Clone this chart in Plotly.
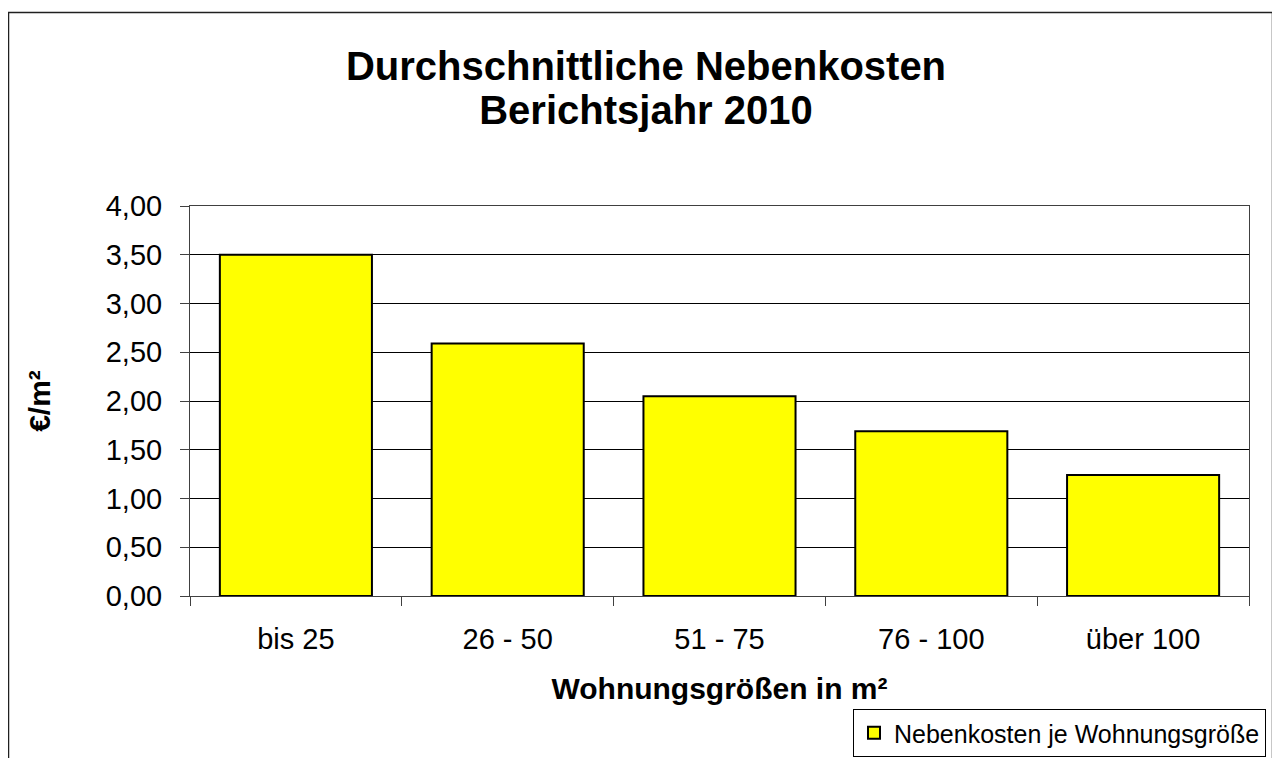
import plotly.graph_objects as go

categories = ["bis 25", "26 - 50", "51 - 75", "76 - 100", "über 100"]
values = [3.50, 2.59, 2.05, 1.69, 1.24]
series_name = "Nebenkosten je Wohnungsgröße"
title_lines = ["Durchschnittliche Nebenkosten", "Berichtsjahr 2010"]
x_title = "Wohnungsgrößen in m²"
y_title = "€/m²"
y_ticks = [0, 0.5, 1.0, 1.5, 2.0, 2.5, 3.0, 3.5, 4.0]

FONT = "Liberation Sans, Arial, sans-serif"

# the page body has an 8px margin; work in screen pixels and shift
OFF = 8
W, H = 1280 - OFF, 758 - OFF
L, R, T, B = 190 - OFF, 1249 - OFF, 206 - OFF, 596 - OFF
pw, ph = R - L, B - T


def px(x):
    return (x - OFF - L) / pw


def py(y):
    return (B - (y - OFF)) / ph


fig = go.Figure()
fig.add_trace(go.Bar(
    x=categories, y=values, name=series_name,
    marker=dict(color="#FFFF00", line=dict(color="black", width=2)),
    showlegend=True,
))

title_text = "<br>".join(
    "<b><span style='font-size:40px'>" + t + "</span></b>" for t in title_lines
)

fig.update_layout(
    width=W, height=H,
    margin=dict(l=L, r=W - R, t=T, b=H - B, autoexpand=False),
    paper_bgcolor="white", plot_bgcolor="white",
    separators=",.",
    bargap=0.282,
    font=dict(family=FONT, color="black"),
    title=dict(
        text=title_text,
        x=(646 - OFF) / W, xanchor="center", y=1 - (80 - OFF) / H, yanchor="top",
        font=dict(size=34, family=FONT, color="black"),
    ),
    xaxis=dict(
        type="category", tickson="boundaries", ticks="outside", ticklen=9,
        tickcolor="#404040", showline=True, linecolor="#404040", linewidth=1,
        mirror=True, showgrid=False, ticklabelstandoff=17,
        tickfont=dict(size=29, family=FONT),
        title=dict(text="<b>" + x_title + "</b>", font=dict(size=30, family=FONT), standoff=24),
    ),
    yaxis=dict(
        range=[0, 4], tickvals=y_ticks, tickformat=".2f",
        ticks="outside", ticklen=9, tickcolor="#404040",
        showline=True, linecolor="#404040", linewidth=1, mirror=True,
        showgrid=True, gridcolor="black", gridwidth=1,
        zeroline=False, ticklabelstandoff=12,
        tickfont=dict(size=29, family=FONT),
        title=dict(text="<b>" + y_title + "</b>", font=dict(size=30, family=FONT), standoff=46),
    ),
    legend=dict(
        xref="container", yref="container",
        x=(1266 - OFF) / W, xanchor="right", y=1 - (709 - OFF) / H, yanchor="top",
        bordercolor="black", borderwidth=1, bgcolor="white",
        font=dict(size=25, family=FONT), itemwidth=30,
    ),
    shapes=[dict(
        type="rect", xref="paper", yref="paper",
        x0=px(8.5), x1=px(1272.5), y0=py(790), y1=py(12.5),
        line=dict(color="#202020", width=1.5), fillcolor="rgba(0,0,0,0)", layer="below",
    )],
)

fig.write_html("out.html")
